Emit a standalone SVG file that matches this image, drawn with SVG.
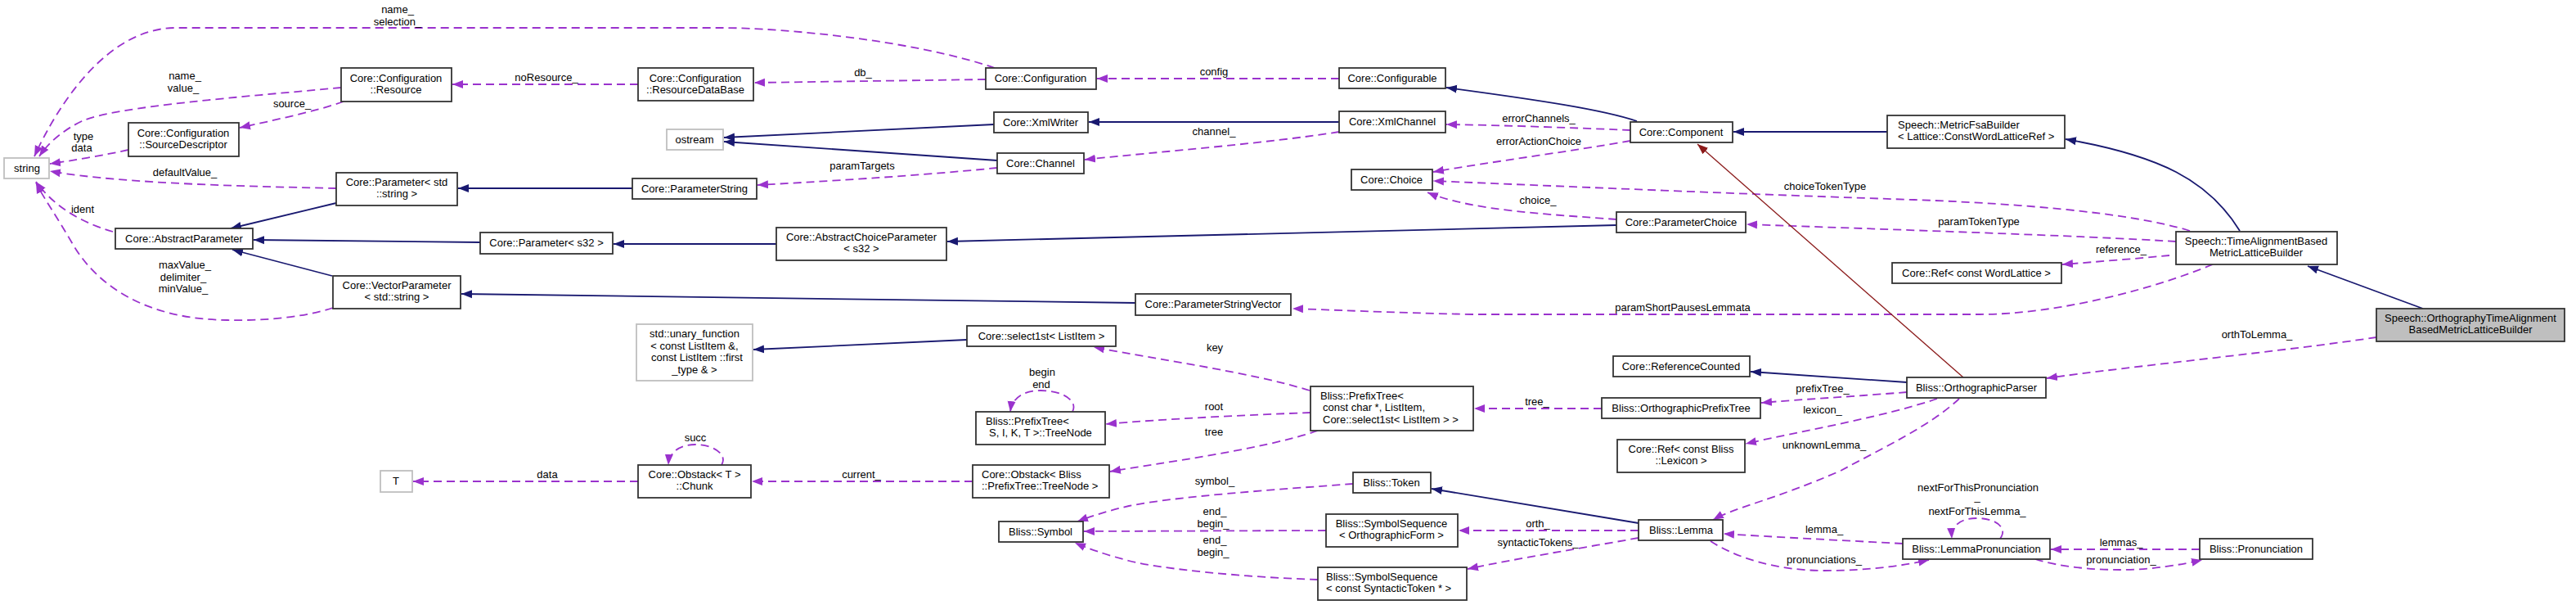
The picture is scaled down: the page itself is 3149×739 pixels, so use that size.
<svg xmlns="http://www.w3.org/2000/svg" width="3149" height="739" viewBox="0 0 3149 739">
<style>
text{font-family:"Liberation Sans",Arial,sans-serif;font-size:13px;fill:#000}
.n rect{fill:#fff;stroke:#333;stroke-width:1.8}
.g rect{fill:#fff;stroke:#bfbfbf;stroke-width:1.8}
.c{text-anchor:middle}
.u{fill:none;stroke:#9a32cd;stroke-width:1.8;stroke-dasharray:10,6}
.i{fill:none;stroke:#191970;stroke-width:1.8}
.p{fill:none;stroke:#8b1a1a;stroke-width:1.3}
.lab{text-anchor:middle}
</style>
<defs>
<marker id="ap" markerWidth="14" markerHeight="12" refX="13" refY="6" orient="auto" markerUnits="userSpaceOnUse"><path d="M0,1 L13,6 L0,11 z" fill="#9a32cd"/></marker>
<marker id="an" markerWidth="14" markerHeight="12" refX="13" refY="6" orient="auto" markerUnits="userSpaceOnUse"><path d="M0,1 L13,6 L0,11 z" fill="#191970"/></marker>
<marker id="ar" markerWidth="14" markerHeight="12" refX="13" refY="6" orient="auto" markerUnits="userSpaceOnUse"><path d="M0,1 L13,6 L0,11 z" fill="#8b1a1a"/></marker>
</defs>
<rect width="3149" height="739" fill="#fff"/>

<g id="edges">
<!-- usage edges -->
<path class="u" marker-end="url(#ap)" d="M1216,83 C1120,50 960,34 882,34 L215,34 C130,34 70,130 42,191"/>
<path class="u" marker-end="url(#ap)" d="M417,107 C300,118 140,130 100,148 C75,160 58,176 48,191"/>
<path class="u" marker-end="url(#ap)" d="M420,124 C390,135 330,148 293,156"/>
<path class="u" marker-end="url(#ap)" d="M157,183 C130,189 90,196 61,200"/>
<path class="u" marker-end="url(#ap)" d="M411,230 C320,228 150,225 61,209"/>
<path class="u" marker-end="url(#ap)" d="M138,283 C110,275 70,258 44,222"/>
<path class="u" marker-end="url(#ap)" d="M407,376 C370,388 320,392 278,391 C180,390 120,350 90,300 C68,262 52,240 44,223"/>
<path class="u" marker-end="url(#ap)" d="M780,103 L553,103"/>
<path class="u" marker-end="url(#ap)" d="M1205,97 L922,101"/>
<path class="u" marker-end="url(#ap)" d="M1637,96 L1341,96"/>
<path class="u" marker-end="url(#ap)" d="M1637,161 C1550,175 1420,185 1326,195"/>
<path class="u" marker-end="url(#ap)" d="M1219,205 C1120,215 1000,222 926,226"/>
<path class="u" marker-end="url(#ap)" d="M1993,159 C1920,156 1840,153 1768,152"/>
<path class="u" marker-end="url(#ap)" d="M1993,172 C1920,185 1820,198 1752,210"/>
<path class="u" marker-end="url(#ap)" d="M2677,282 C2600,258 2450,248 2340,244 C2100,236 1900,227 1752,221"/>
<path class="u" marker-end="url(#ap)" d="M1976,268 C1900,262 1800,258 1745,235"/>
<path class="u" marker-end="url(#ap)" d="M2660,295 C2550,288 2300,280 2135,274"/>
<path class="u" marker-end="url(#ap)" d="M2652,312 C2610,316 2560,320 2521,323"/>
<path class="u" marker-end="url(#ap)" d="M2705,323 C2640,350 2520,384 2420,384 L1800,384 C1700,382 1620,378 1580,377"/>
<path class="u" marker-end="url(#ap)" d="M2905,412 C2800,428 2600,448 2502,462"/>
<path class="u" marker-end="url(#ap)" d="M1601,477 C1530,455 1420,440 1337,424"/>
<path class="u" marker-end="url(#ap)" d="M1602,504 C1520,507 1420,512 1352,518"/>
<path class="u" marker-end="url(#ap)" d="M1611,526 C1540,550 1420,565 1357,576"/>
<path class="u" marker-end="url(#ap)" d="M1311,503 C1318,490 1300,477 1272,477 C1250,477 1237,487 1235,503"/>
<path class="u" marker-end="url(#ap)" d="M882,568 C890,555 872,543 850,543 C830,543 818,553 817,568"/>
<path class="u" marker-end="url(#ap)" d="M1189,588 L919,588"/>
<path class="u" marker-end="url(#ap)" d="M780,588 L505,588"/>
<path class="u" marker-end="url(#ap)" d="M1654,591 C1560,598 1440,606 1380,618 C1350,625 1330,632 1317,637"/>
<path class="u" marker-end="url(#ap)" d="M1621,648 L1325,649"/>
<path class="u" marker-end="url(#ap)" d="M1611,708 C1520,705 1420,695 1380,685 C1350,677 1330,670 1314,663"/>
<path class="u" marker-end="url(#ap)" d="M2331,479 C2270,484 2200,488 2153,492"/>
<path class="u" marker-end="url(#ap)" d="M1958,499 L1802,499"/>
<path class="u" marker-end="url(#ap)" d="M2368,487 C2300,510 2200,527 2134,542"/>
<path class="u" marker-end="url(#ap)" d="M2395,487 C2360,520 2300,548 2250,575 C2170,610 2120,620 2094,635"/>
<path class="u" marker-end="url(#ap)" d="M2003,648 L1783,648"/>
<path class="u" marker-end="url(#ap)" d="M2003,657 C1930,670 1850,683 1794,695"/>
<path class="u" marker-end="url(#ap)" d="M2326,664 C2250,660 2170,656 2107,652"/>
<path class="u" marker-end="url(#ap)" d="M2091,661 C2120,680 2170,697 2230,697 C2290,697 2330,690 2358,684"/>
<path class="u" marker-end="url(#ap)" d="M2445,658 C2455,645 2440,633 2417,633 C2395,633 2385,643 2386,658"/>
<path class="u" marker-end="url(#ap)" d="M2689,671 L2507,671"/>
<path class="u" marker-end="url(#ap)" d="M2488,683 C2520,693 2560,696 2593,696 C2630,696 2665,690 2692,684"/>
<!-- inheritance edges -->
<path class="i" marker-end="url(#an)" d="M411,248 L282,279"/>
<path class="i" marker-end="url(#an)" d="M587,296 L310,293"/>
<path class="i" marker-end="url(#an)" d="M406,337 L284,305"/>
<path class="i" marker-end="url(#an)" d="M773,230 L560,230"/>
<path class="i" marker-end="url(#an)" d="M949,298 L750,298"/>
<path class="i" marker-end="url(#an)" d="M1388,370 L564,359"/>
<path class="i" marker-end="url(#an)" d="M1215,152 L885,168"/>
<path class="i" marker-end="url(#an)" d="M1219,196 L885,173"/>
<path class="i" marker-end="url(#an)" d="M1637,149 L1331,149"/>
<path class="i" marker-end="url(#an)" d="M1976,275 L1158,295"/>
<path class="i" marker-end="url(#an)" d="M2001,148 C1960,134 1880,122 1768,107"/>
<path class="i" marker-end="url(#an)" d="M2307,161 L2119,161"/>
<path class="i" marker-end="url(#an)" d="M2738,282 C2700,220 2640,190 2525,170"/>
<path class="i" marker-end="url(#an)" d="M2962,377 L2821,325"/>
<path class="i" marker-end="url(#an)" d="M2331,467 L2140,454"/>
<path class="i" marker-end="url(#an)" d="M1182,415 L921,427"/>
<path class="i" marker-end="url(#an)" d="M2003,639 L1750,597"/>
<!-- private inheritance -->
<path class="p" marker-end="url(#ar)" d="M2400,461 L2075,176"/>
<!-- edge labels -->
<text class="lab" x="486" y="16">name_</text>
<text class="lab" x="486" y="31">selection_</text>
<text class="lab" x="226" y="97">name_</text>
<text class="lab" x="224" y="112">value_</text>
<text class="lab" x="357" y="131">source_</text>
<text class="lab" x="102" y="171">type</text>
<text class="lab" x="100" y="185">data</text>
<text class="lab" x="226" y="215">defaultValue_</text>
<text class="lab" x="101" y="260">ident</text>
<text class="lab" x="668" y="99">noResource_</text>
<text class="lab" x="226" y="328">maxValue_</text>
<text class="lab" x="224" y="343">delimiter_</text>
<text class="lab" x="224" y="357">minValue_</text>
<text class="lab" x="1055" y="93">db_</text>
<text class="lab" x="1484" y="92">config</text>
<text class="lab" x="1484" y="165">channel_</text>
<text class="lab" x="1054" y="207">paramTargets</text>
<text class="lab" x="1881" y="149">errorChannels_</text>
<text class="lab" x="1881" y="177">errorActionChoice</text>
<text class="lab" x="2231" y="232">choiceTokenType</text>
<text class="lab" x="1880" y="249">choice_</text>
<text class="lab" x="2419" y="275">paramTokenType</text>
<text class="lab" x="2593" y="309">reference_</text>
<text class="lab" x="2057" y="380">paramShortPausesLemmata</text>
<text class="lab" x="2759" y="413">orthToLemma_</text>
<text class="lab" x="1485" y="429">key</text>
<text class="lab" x="1274" y="459">begin</text>
<text class="lab" x="1273" y="474">end</text>
<text class="lab" x="1484" y="501">root</text>
<text class="lab" x="1484" y="532">tree</text>
<text class="lab" x="850" y="539">succ</text>
<text class="lab" x="1053" y="584">current_</text>
<text class="lab" x="669" y="584">data</text>
<text class="lab" x="1485" y="592">symbol_</text>
<text class="lab" x="1485" y="629">end_</text>
<text class="lab" x="1483" y="644">begin_</text>
<text class="lab" x="1485" y="664">end_</text>
<text class="lab" x="1483" y="679">begin_</text>
<text class="lab" x="2228" y="479">prefixTree_</text>
<text class="lab" x="1879" y="495">tree_</text>
<text class="lab" x="2228" y="505">lexicon_</text>
<text class="lab" x="2230" y="548">unknownLemma_</text>
<text class="lab" x="1880" y="644">orth_</text>
<text class="lab" x="1880" y="667">syntacticTokens_</text>
<text class="lab" x="2230" y="651">lemma_</text>
<text class="lab" x="2230" y="688">pronunciations_</text>
<text class="lab" x="2418" y="600">nextForThisPronunciation</text>
<text class="lab" x="2417" y="611">_</text>
<text class="lab" x="2417" y="629">nextForThisLemma_</text>
<text class="lab" x="2593" y="667">lemmas_</text>
<text class="lab" x="2593" y="688">pronunciation_</text>
</g>

<g id="string" class="g"><rect x="5" y="193" width="55" height="25"/><text class="c" x="33" y="210">string</text></g>
<g id="resource" class="n"><rect x="417" y="83" width="135" height="41"/><text class="c" x="484" y="100">Core::Configuration</text><text class="c" x="484" y="114">::Resource</text></g>
<g id="sourcedescriptor" class="n"><rect x="157" y="150" width="135" height="41"/><text class="c" x="224" y="167">Core::Configuration</text><text class="c" x="224" y="181">::SourceDescriptor</text></g>
<g id="parameter_string" class="n"><rect x="411" y="211" width="148" height="40"/><text class="c" x="485" y="227">Core::Parameter&lt; std</text><text class="c" x="485" y="241">::string &gt;</text></g>
<g id="abstractparameter" class="n"><rect x="141" y="279" width="168" height="25"/><text class="c" x="225" y="296">Core::AbstractParameter</text></g>
<g id="parameter_s32" class="n"><rect x="587" y="284" width="162" height="26"/><text class="c" x="668" y="301">Core::Parameter&lt; s32 &gt;</text></g>
<g id="vectorparameter" class="n"><rect x="407" y="337" width="156" height="40"/><text class="c" x="485" y="353">Core::VectorParameter</text><text class="c" x="485" y="367">&lt; std::string &gt;</text></g>
<g id="resourcedatabase" class="n"><rect x="780" y="83" width="141" height="40"/><text class="c" x="850" y="100">Core::Configuration</text><text class="c" x="850" y="114">::ResourceDataBase</text></g>
<g id="configuration" class="n"><rect x="1205" y="83" width="135" height="26"/><text class="c" x="1272" y="100">Core::Configuration</text></g>
<g id="xmlwriter" class="n"><rect x="1215" y="137" width="115" height="25"/><text class="c" x="1272" y="154">Core::XmlWriter</text></g>
<g id="ostream" class="g"><rect x="815" y="158" width="69" height="25"/><text class="c" x="849" y="175">ostream</text></g>
<g id="channel" class="n"><rect x="1219" y="187" width="106" height="25"/><text class="c" x="1272" y="204">Core::Channel</text></g>
<g id="parameterstring" class="n"><rect x="773" y="218" width="152" height="25"/><text class="c" x="849" y="235">Core::ParameterString</text></g>
<g id="abstractchoiceparameter" class="n"><rect x="949" y="278" width="208" height="40"/><text class="c" x="1053" y="294">Core::AbstractChoiceParameter</text><text class="c" x="1053" y="308">&lt; s32 &gt;</text></g>
<g id="parameterstringvector" class="n"><rect x="1388" y="359" width="190" height="26"/><text class="c" x="1483" y="376">Core::ParameterStringVector</text></g>
<g id="configurable" class="n"><rect x="1637" y="83" width="130" height="25"/><text class="c" x="1702" y="100">Core::Configurable</text></g>
<g id="xmlchannel" class="n"><rect x="1637" y="136" width="130" height="26"/><text class="c" x="1702" y="153">Core::XmlChannel</text></g>
<g id="component" class="n"><rect x="1993" y="149" width="125" height="25"/><text class="c" x="2055" y="166">Core::Component</text></g>
<g id="choice" class="n"><rect x="1652" y="207" width="99" height="25"/><text class="c" x="1701" y="224">Core::Choice</text></g>
<g id="parameterchoice" class="n"><rect x="1976" y="259" width="158" height="25"/><text class="c" x="2055" y="276">Core::ParameterChoice</text></g>
<g id="metricfsabuilder" class="n"><rect x="2307" y="141" width="217" height="40"/><text x="2320" y="157">Speech::MetricFsaBuilder</text><text x="2320" y="171">&lt; Lattice::ConstWordLatticeRef &gt;</text></g>
<g id="timealignmentbased" class="n"><rect x="2660" y="283" width="197" height="40"/><text class="c" x="2758" y="299">Speech::TimeAlignmentBased</text><text class="c" x="2758" y="313">MetricLatticeBuilder</text></g>
<g id="ref_wordlattice" class="n"><rect x="2313" y="321" width="207" height="25"/><text class="c" x="2416" y="338">Core::Ref&lt; const WordLattice &gt;</text></g>
<g id="orthographytimealignment" class="n"><rect x="2905" y="377" width="230" height="40" style="fill:#bfbfbf"/><text class="c" x="3020" y="393">Speech::OrthographyTimeAlignment</text><text class="c" x="3020" y="407">BasedMetricLatticeBuilder</text></g>
<g id="unary_function" class="g"><rect x="778" y="396" width="142" height="69"/><text class="c" x="849" y="412">std::unary_function</text><text class="c" x="849" y="427">&lt; const ListItem &amp;,</text><text class="c" x="852" y="441">const ListItem ::first</text><text class="c" x="849" y="456">_type &amp; &gt;</text></g>
<g id="select1st" class="n"><rect x="1182" y="398" width="182" height="25"/><text class="c" x="1273" y="415">Core::select1st&lt; ListItem &gt;</text></g>
<g id="treenode" class="n"><rect x="1193" y="503" width="158" height="40"/><text x="1205" y="519">Bliss::PrefixTree&lt;</text><text x="1209" y="533">S, I, K, T &gt;::TreeNode</text></g>
<g id="chunk" class="n"><rect x="780" y="568" width="138" height="40"/><text class="c" x="849" y="584">Core::Obstack&lt; T &gt;</text><text class="c" x="849" y="598">::Chunk</text></g>
<g id="obstack_treenode" class="n"><rect x="1189" y="568" width="167" height="40"/><text x="1200" y="584">Core::Obstack&lt; Bliss</text><text x="1200" y="598">::PrefixTree::TreeNode &gt;</text></g>
<g id="symbol" class="n"><rect x="1221" y="637" width="103" height="25"/><text class="c" x="1272" y="654">Bliss::Symbol</text></g>
<g id="T" class="g"><rect x="465" y="575" width="39" height="26"/><text class="c" x="484" y="592">T</text></g>
<g id="referencecounted" class="n"><rect x="1972" y="435" width="167" height="25"/><text class="c" x="2055" y="452">Core::ReferenceCounted</text></g>
<g id="prefixtree" class="n"><rect x="1602" y="472" width="199" height="54"/><text x="1614" y="488">Bliss::PrefixTree&lt;</text><text x="1617" y="502">const char *, ListItem,</text><text x="1617" y="517">Core::select1st&lt; ListItem &gt; &gt;</text></g>
<g id="orthographicprefixtree" class="n"><rect x="1958" y="486" width="194" height="25"/><text class="c" x="2055" y="503">Bliss::OrthographicPrefixTree</text></g>
<g id="ref_lexicon" class="n"><rect x="1977" y="537" width="156" height="40"/><text class="c" x="2055" y="553">Core::Ref&lt; const Bliss</text><text class="c" x="2055" y="567">::Lexicon &gt;</text></g>
<g id="token" class="n"><rect x="1654" y="577" width="95" height="25"/><text class="c" x="1701" y="594">Bliss::Token</text></g>
<g id="symseq_ortho" class="n"><rect x="1621" y="628" width="161" height="40"/><text class="c" x="1701" y="644">Bliss::SymbolSequence</text><text class="c" x="1701" y="658">&lt; OrthographicForm &gt;</text></g>
<g id="symseq_syntactic" class="n"><rect x="1611" y="693" width="182" height="40"/><text x="1621" y="709">Bliss::SymbolSequence</text><text x="1621" y="723">&lt; const SyntacticToken * &gt;</text></g>
<g id="lemma" class="n"><rect x="2003" y="635" width="103" height="25"/><text class="c" x="2055" y="652">Bliss::Lemma</text></g>
<g id="orthographicparser" class="n"><rect x="2331" y="461" width="170" height="25"/><text class="c" x="2416" y="478">Bliss::OrthographicParser</text></g>
<g id="lemmapronunciation" class="n"><rect x="2326" y="658" width="180" height="25"/><text class="c" x="2416" y="675">Bliss::LemmaPronunciation</text></g>
<g id="pronunciation" class="n"><rect x="2689" y="658" width="138" height="25"/><text class="c" x="2758" y="675">Bliss::Pronunciation</text></g>
</svg>
